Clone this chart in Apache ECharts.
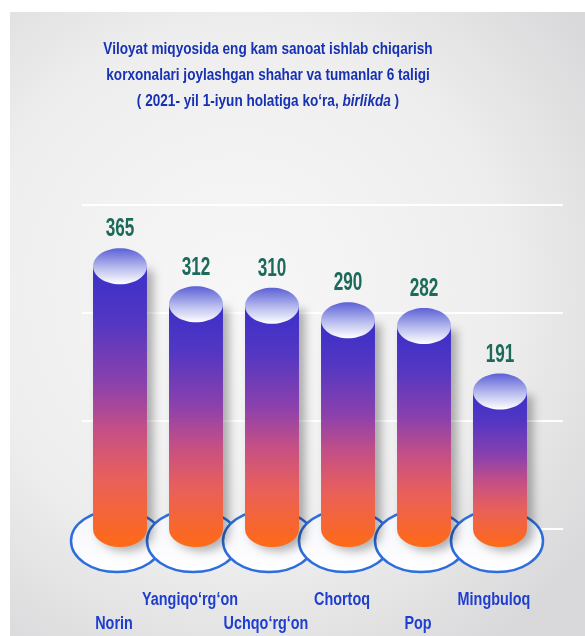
<!DOCTYPE html>
<html>
<head>
<meta charset="utf-8">
<script src="https://cdn.jsdelivr.net/npm/echarts@6/dist/echarts.min.js"></script>
<style>
  html, body { margin: 0; padding: 0; background: #ffffff; }
  #chart { width: 585px; height: 636px; }
</style>
</head>
<body>
<div id="chart"></div>
<script>
// Districts and their enterprise counts (units)
const categories = ['Norin', 'Yangiqo\u2018rg\u2018on', 'Uchqo\u2018rg\u2018on', 'Chortoq', 'Pop', 'Mingbuloq'];
const values = [365, 312, 310, 290, 282, 191];

// Title lines
const titleLines = [
  'Viloyat miqyosida eng kam sanoat ishlab chiqarish',
  'korxonalari joylashgan shahar va tumanlar 6 taligi',
  '( 2021- yil 1-iyun holatiga ko\u2018ra, {i|birlikda} )'
];

// Value axis settings
const axisMin = 0;
const axisMax = 600;
const axisStep = 150;
const gridLineMax = 450; // background guide lines stop below the title

// Arial-like face squeezed horizontally to get a narrow bold look
const FACE = '"Liberation Sans", Arial, sans-serif';
const NARROW_X = 0.8;

const chart = echarts.init(document.getElementById('chart'), null, { renderer: 'canvas' });

const seriesData = values.map((v, i) => [i, v]);

// cylinder body fill, top (blue) to bottom (orange)
function bodyFill(y1, y2) {
  return {
    type: 'linear', x: 0, y: y1, x2: 0, y2: y2, global: true,
    colorStops: [
      { offset: 0.00, color: '#3a2fc9' },
      { offset: 0.20, color: '#5437c2' },
      { offset: 0.42, color: '#8c41ac' },
      { offset: 0.58, color: '#c44f86' },
      { offset: 0.76, color: '#e9605a' },
      { offset: 1.00, color: '#ff6a16' }
    ]
  };
}

function renderCylinder(params, api) {
  const i = api.value(0);
  const v = api.value(1);
  const top = api.coord([i, v]);
  const base = api.coord([i, 0]);
  const w = api.size([1, 0])[0] * 0.71;
  const rx = w / 2, ry = 18;
  const cx = top[0];
  const x0 = cx - rx, x1 = cx + rx;
  const ty = top[1], by = base[1];
  return {
    type: 'group',
    children: [
      {
        type: 'path',
        shape: {
          pathData: 'M' + x0 + ',' + ty + ' L' + x0 + ',' + by +
            ' A' + rx + ',' + ry + ' 0 0 0 ' + x1 + ',' + by +
            ' L' + x1 + ',' + ty + ' Z'
        },
        style: {
          fill: bodyFill(ty, by + ry),
          shadowBlur: 10,
          shadowColor: 'rgba(0,0,0,0.30)',
          shadowOffsetX: 6,
          shadowOffsetY: 4
        }
      },
      {
        type: 'ellipse',
        shape: { cx: cx, cy: ty, rx: rx, ry: ry },
        style: {
          fill: new echarts.graphic.LinearGradient(0, 0, 0, 1, [
            { offset: 0, color: '#5c60d6' },
            { offset: 0.55, color: '#b9bdee' },
            { offset: 1, color: '#ffffff' }
          ])
        }
      },
      {
        type: 'text',
        x: cx,
        y: ty - ry - 6,
        scaleX: 0.66,
        style: {
          text: String(v),
          fill: '#1c6b5a',
          font: 'bold 26px ' + FACE,
          align: 'center',
          verticalAlign: 'bottom'
        }
      }
    ]
  };
}

function renderPlate(params, api) {
  const i = api.value(0);
  const base = api.coord([i, 0]);
  // category names alternate between two rows
  const labelY = base[1] + (i % 2 === 0 ? 95 : 71);
  return {
    type: 'group',
    children: [
      {
        type: 'ellipse',
        shape: { cx: base[0] - 3, cy: base[1] + 12, rx: 46, ry: 31 },
        style: {
          fill: new echarts.graphic.LinearGradient(0, 0, 0, 1, [
            { offset: 0, color: '#f4f5fb' },
            { offset: 1, color: '#ffffff' }
          ]),
          stroke: '#2d6ddd',
          lineWidth: 2.5
        }
      },
      {
        type: 'text',
        x: base[0] - 6,
        y: labelY,
        scaleX: NARROW_X,
        style: {
          text: categories[i],
          fill: '#1e3ecf',
          font: 'bold 18px ' + FACE,
          align: 'center',
          verticalAlign: 'middle'
        }
      }
    ]
  };
}

const titleGraphics = titleLines.map((line, k) => ({
  type: 'text',
  x: 268,
  y: 49 + k * 26,
  scaleX: NARROW_X,
  z: 10,
  silent: true,
  style: {
    text: line,
    fill: '#1631b3',
    font: 'bold 17px ' + FACE,
    align: 'center',
    verticalAlign: 'middle',
    rich: {
      i: {
        fill: '#1631b3',
        fontFamily: FACE,
        fontWeight: 'bold',
        fontStyle: 'italic',
        fontSize: 17
      }
    }
  }
}));

const option = {
  animation: false,
  backgroundColor: '#ffffff',
  graphic: [
    {
      type: 'rect',
      z: -10,
      silent: true,
      shape: { x: 10, y: 12, width: 575, height: 624 },
      style: {
        fill: new echarts.graphic.RadialGradient(0.4, 0.45, 0.75, [
          { offset: 0, color: '#f7f7f7' },
          { offset: 0.6, color: '#eeeeee' },
          { offset: 1, color: '#d9d9db' }
        ])
      }
    }
  ].concat(titleGraphics),
  grid: [
    { left: 82, right: 22, top: 205, bottom: 107 },
    { left: 82, right: 47, top: 97, bottom: 107 }
  ],
  xAxis: [
    { type: 'category', gridIndex: 0, data: categories, show: false },
    {
      type: 'category',
      gridIndex: 1,
      data: categories,
      axisLine: { show: false },
      axisTick: { show: false },
      axisLabel: { show: false }
    }
  ],
  yAxis: [
    {
      type: 'value', gridIndex: 0,
      min: axisMin, max: gridLineMax, interval: axisStep,
      axisLine: { show: false }, axisTick: { show: false }, axisLabel: { show: false },
      splitLine: { show: true, lineStyle: { color: 'rgba(255,255,255,0.95)', width: 2 } }
    },
    {
      type: 'value', gridIndex: 1,
      min: axisMin, max: axisMax, interval: axisStep,
      show: false,
      splitLine: { show: false }
    }
  ],
  series: [
    {
      type: 'custom',
      name: 'plates',
      xAxisIndex: 1, yAxisIndex: 1,
      z: 2,
      renderItem: renderPlate,
      data: seriesData
    },
    {
      type: 'custom',
      name: 'cylinders',
      xAxisIndex: 1, yAxisIndex: 1,
      z: 3,
      renderItem: renderCylinder,
      data: seriesData
    }
  ]
};

chart.setOption(option);
</script>
</body>
</html>
